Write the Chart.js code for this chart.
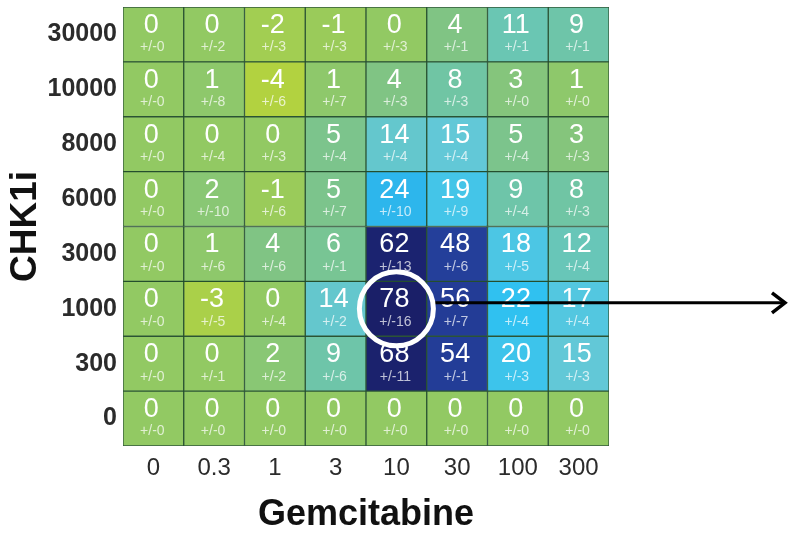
<!DOCTYPE html>
<html>
<head>
<meta charset="utf-8">
<script src="https://cdn.jsdelivr.net/npm/chart.js@4.4.0/dist/chart.umd.min.js"></script>
<style>
  html, body { margin: 0; padding: 0; background: #fff; }
  #wrap { width: 788px; height: 534px; }
</style>
</head>
<body>
<div id="wrap"><canvas id="heat"></canvas></div>
<script>
// Gemcitabine doses (columns) and CHK1i doses (rows, top to bottom)
const gemLabels = ['0', '0.3', '1', '3', '10', '30', '100', '300'];
const chkLabels = ['30000', '10000', '8000', '6000', '3000', '1000', '300', '0'];

// % effect, rows top to bottom
const effect = [
  [0, 0, -2, -1, 0, 4, 11, 9],
  [0, 1, -4, 1, 4, 8, 3, 1],
  [0, 0, 0, 5, 14, 15, 5, 3],
  [0, 2, -1, 5, 24, 19, 9, 8],
  [0, 1, 4, 6, 62, 48, 18, 12],
  [0, -3, 0, 14, 78, 56, 22, 17],
  [0, 0, 2, 9, 68, 54, 20, 15],
  [0, 0, 0, 0, 0, 0, 0, 0]
];
// +/- error, same layout
const spread = [
  [0, 2, 3, 3, 3, 1, 1, 1],
  [0, 8, 6, 7, 3, 3, 0, 0],
  [0, 4, 3, 4, 4, 4, 4, 3],
  [0, 10, 6, 7, 10, 9, 4, 3],
  [0, 6, 6, 1, 13, 6, 5, 4],
  [0, 5, 4, 2, 16, 7, 4, 4],
  [0, 1, 2, 6, 11, 1, 3, 3],
  [0, 0, 0, 0, 0, 0, 0, 0]
];

// highlighted cell
const markGem = '10';
const markChk = '1000';

// colour ramp
const stops = [
  [-4, [178, 210, 64]],
  [0, [146, 201, 99]],
  [4, [128, 196, 132]],
  [8, [112, 197, 164]],
  [12, [104, 198, 184]],
  [15, [98, 200, 215]],
  [19, [68, 197, 232]],
  [22, [48, 193, 240]],
  [24, [45, 182, 236]],
  [36, [40, 110, 190]],
  [48, [36, 63, 154]],
  [56, [35, 60, 150]],
  [62, [27, 35, 112]],
  [78, [26, 31, 104]]
];

function heatColor(v) {
  if (v <= stops[0][0]) return 'rgb(' + stops[0][1].join(',') + ')';
  for (let i = 1; i < stops.length; i++) {
    if (v <= stops[i][0]) {
      const [v0, c0] = stops[i - 1];
      const [v1, c1] = stops[i];
      const t = (v - v0) / (v1 - v0);
      const c = c0.map((x, k) => Math.round(x + (c1[k] - x) * t));
      return 'rgb(' + c.join(',') + ')';
    }
  }
  return 'rgb(' + stops[stops.length - 1][1].join(',') + ')';
}

// rows bottom-up for stacking
const rowsUp = chkLabels.map((lab, i) => i).reverse();

const datasets = rowsUp.map(r => ({
  label: chkLabels[r],
  data: gemLabels.map(() => 1),
  backgroundColor: effect[r].map(heatColor),
  borderColor: 'rgba(25,70,35,0.9)',
  borderWidth: 1,
  borderSkipped: false,
  barPercentage: 1,
  categoryPercentage: 1,
  rowIndex: r
}));

const cellText = {
  id: 'cellText',
  afterDatasetsDraw(chart) {
    const ctx = chart.ctx;
    ctx.save();
    ctx.textAlign = 'center';
    ctx.textBaseline = 'middle';
    chart.data.datasets.forEach((ds, di) => {
      const meta = chart.getDatasetMeta(di);
      meta.data.forEach((bar, ci) => {
        const mid = (bar.y + bar.base) / 2;
        ctx.fillStyle = '#ffffff';
        ctx.font = '27px "Liberation Sans", Arial, sans-serif';
        ctx.fillText(String(effect[ds.rowIndex][ci]), bar.x - 2, mid - 9);
        ctx.fillStyle = 'rgba(255,255,255,0.72)';
        ctx.font = '14px "Liberation Sans", Arial, sans-serif';
        ctx.fillText('+/-' + spread[ds.rowIndex][ci], bar.x - 1, mid + 13);
      });
    });
    ctx.restore();
  },
  afterDraw(chart) {
    const di = chart.data.datasets.findIndex(d => d.label === markChk);
    const ci = gemLabels.indexOf(markGem);
    const bar = chart.getDatasetMeta(di).data[ci];
    const cx = bar.x;
    const cy = (bar.y + bar.base) / 2;
    const r = 37;
    const ctx = chart.ctx;
    ctx.save();
    // arrow
    const ay = cy - 6;
    const endX = chart.width - 3;
    ctx.strokeStyle = '#000';
    ctx.lineWidth = 3;
    ctx.beginPath();
    ctx.moveTo(cx + r, ay);
    ctx.lineTo(endX, ay);
    ctx.stroke();
    ctx.lineWidth = 3.5;
    ctx.beginPath();
    ctx.moveTo(endX - 13, ay - 10);
    ctx.lineTo(endX, ay);
    ctx.lineTo(endX - 13, ay + 10);
    ctx.stroke();
    // circle
    ctx.strokeStyle = '#fff';
    ctx.lineWidth = 5;
    ctx.beginPath();
    ctx.arc(cx, cy, r, 0, Math.PI * 2);
    ctx.stroke();
    ctx.restore();
  }
};

new Chart(document.getElementById('heat'), {
  type: 'bar',
  data: { labels: gemLabels, datasets },
  plugins: [cellText],
  options: {
    responsive: true,
    maintainAspectRatio: false,
    animation: false,
    layout: { padding: { left: 0, right: 179, top: 7, bottom: 0 } },
    plugins: {
      legend: { display: false },
      tooltip: { enabled: false }
    },
    scales: {
      x: {
        stacked: true,
        grid: { display: false, drawTicks: false },
        border: { display: false },
        ticks: {
          color: '#2b2b2b',
          padding: 8,
          font: { family: '"Liberation Sans", Arial, sans-serif', size: 24 }
        },
        title: {
          display: true,
          text: 'Gemcitabine',
          color: '#111',
          padding: { top: 0, bottom: -3 },
          font: { family: '"Liberation Sans", Arial, sans-serif', size: 36, weight: 'bold' }
        },
        afterFit(scale) {
          scale.height = 88;
          scale.paddingLeft = 0;
          scale.paddingRight = 0;
        }
      },
      y: {
        stacked: true,
        min: 0,
        max: 8,
        grid: { display: false, drawTicks: false },
        border: { display: false },
        afterBuildTicks(scale) {
          scale.ticks = rowsUp.map((r, i) => ({ value: i + 0.5 }));
        },
        ticks: {
          color: '#2b2b2b',
          padding: 6,
          font: { family: '"Liberation Sans", Arial, sans-serif', size: 25, weight: 'bold' },
          callback: (v, i) => chkLabels[rowsUp[i]]
        },
        title: {
          display: true,
          text: 'CHK1i',
          color: '#111',
          padding: { top: 4, bottom: 4 },
          font: { family: '"Liberation Sans", Arial, sans-serif', size: 37, weight: 'bold' }
        },
        afterFit(scale) {
          scale.width = 123;
          scale.paddingTop = 0;
          scale.paddingBottom = 0;
        }
      }
    }
  }
});
</script>
</body>
</html>
